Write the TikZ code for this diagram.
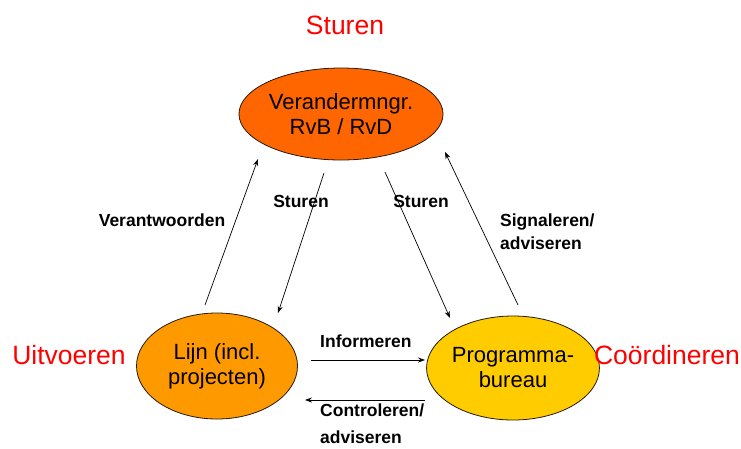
\documentclass[tikz,border=0pt]{standalone}
\usepackage{fontspec}
\setmainfont{Liberation Sans}
\usetikzlibrary{arrows.meta,shapes.geometric}
\definecolor{topfill}{HTML}{FF6600}
\definecolor{leftfill}{HTML}{FF9900}
\definecolor{rightfill}{HTML}{FFCC00}
\definecolor{rolered}{HTML}{FF0000}
\begin{document}
\begin{tikzpicture}[x=1pt,y=-1pt,
  actor/.style={ellipse, draw=black!80!brown, line width=0.8pt, inner sep=0pt, font=\fontsize{22}{25}\selectfont, align=center},
  role/.style={text=rolered, font=\fontsize{26.5}{30}\selectfont, inner sep=0pt},
  flow/.style={draw=black, line width=0.7pt, -{Stealth[length=7pt,width=5pt]}},
  lbl/.style={font=\fontsize{17.5}{21}\selectfont\bfseries, inner sep=0pt, align=left}]
\useasboundingbox (0,0) rectangle (741,448);
% the three parties
\node[actor, fill=topfill, minimum width=168pt, minimum height=92pt] (top) at (341,114) {Verandermngr.\\RvB / RvD};
\node[actor, fill=leftfill, minimum width=161pt, minimum height=106pt] (lijn) at (217,366) {Lijn (incl.\\projecten)};
\node[actor, fill=rightfill, minimum width=164pt, minimum height=104pt] (bureau) at (513,368) {Programma-\\bureau};
% roles
\node[role] (rs) at (345,25) {Sturen};
\node[role] (ru) at (69,355) {Uitvoeren};
\node[role] (rc) at (667,355) {Coördineren};
% arrow end points
\coordinate (a1s) at (205,305); \coordinate (a1e) at (258,159);
\coordinate (a2s) at (324,173); \coordinate (a2e) at (278,313);
\coordinate (a3s) at (385,172); \coordinate (a3e) at (450,318);
\coordinate (a4s) at (518,305); \coordinate (a4e) at (445,152);
\coordinate (a5s) at (311,360); \coordinate (a5e) at (425,360);
\coordinate (a6s) at (425,400); \coordinate (a6e) at (305,400);
\draw[flow] (a1s) -- (a1e);
\draw[flow] (a2s) -- (a2e);
\draw[flow] (a3s) -- (a3e);
\draw[flow] (a4s) -- (a4e);
\draw[flow] (a5s) -- (a5e);
\draw[flow] (a6s) -- (a6e);
% flow labels
\node[lbl] (l1) at (162,220) {Verantwoorden};
\node[lbl] (l2) at (301,201) {Sturen};
\node[lbl] (l3) at (421,201) {Sturen};
\node[lbl, anchor=west] (l4a) at (500,222) {Signaleren/};
\node[lbl, anchor=west] (l4b) at (500,243) {adviseren};
\node[lbl, anchor=west] (l5) at (320,341) {Informeren};
\node[lbl, anchor=west] (l6a) at (320,410) {Controleren/};
\node[lbl, anchor=west] (l6b) at (320,437) {adviseren};
\end{tikzpicture}
\end{document}
